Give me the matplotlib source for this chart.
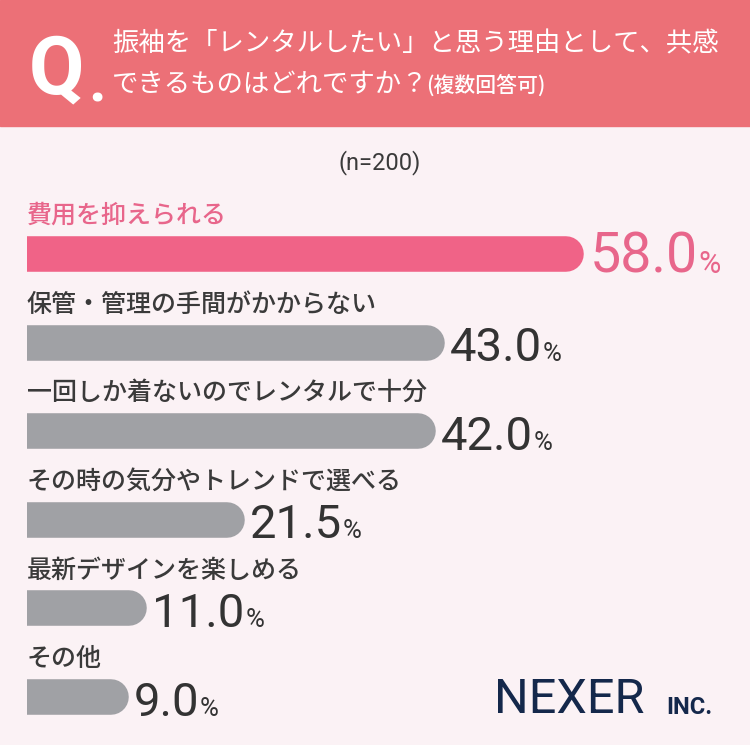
import matplotlib
matplotlib.use("Agg")
import matplotlib.pyplot as plt
from matplotlib.patches import Rectangle

plt.rcParams['font.family'] = ['Noto Sans CJK JP', 'DejaVu Sans']

# data
labels = ["費用を抑えられる", "保管・管理の手間がかからない", "一回しか着ないのでレンタルで十分",
          "その時の気分やトレンドで選べる", "最新デザインを楽しめる", "その他"]
values = [58.0, 43.0, 42.0, 21.5, 11.0, 9.0]
title1 = "振袖を「レンタルしたい」と思う理由として、共感"
title2 = "できるものはどれですか？"
title_note = "(複数回答可)"
n_note = "(n=200)"

W, H = 750, 745
BG = "#fbf2f5"
HEAD = "#ec7077"
PINK = "#f06387"
PINK_TXT = "#e8668b"
GRAY = "#a0a1a5"
DARK = "#333333"
NAVY = "#14284b"


def fx(px):
  return px / W


def fy(py):
  return 1 - py / H


fig = plt.figure(figsize=(W / 100, H / 100), dpi=100)
fig.patch.set_facecolor(BG)
fig.patches.append(Rectangle((0, fy(126)), 1, 126 / H, transform=fig.transFigure,
                             color=HEAD, zorder=0))

# header
fig.text(fx(29), fy(93), "Q", color="white", fontsize=58, fontweight="bold",
         family="Roboto", va="baseline", ha="left")
fig.text(fx(88), fy(102), ".", color="white", fontsize=44, fontweight="bold",
         family="Roboto", va="baseline", ha="left")
fig.text(fx(112), fy(44), title1, color="white", fontsize=19, va="center", ha="left")
fig.text(fx(112), fy(85), title2, color="white", fontsize=19, va="center", ha="left")
fig.text(fx(426), fy(86), title_note, color="white", fontsize=15, va="center", ha="left",
         fontweight="medium")

fig.text(fx(380), fy(163), n_note, color="#3a3a3a", fontsize=17, va="center", ha="center",
         family="Roboto")

# bars
ax = fig.add_axes([fx(27), 0, 1 - fx(27), 1])
ax.set_facecolor("none")
ax.axis("off")
scale = 9.3  # px per percent
ax.set_xlim(0, (W - 27) / scale)
first, step = 254, 88.6
ax.set_ylim((H - first) / step, -first / step)

for i, (lab, v) in enumerate(zip(labels, values)):
  col = PINK if i == 0 else GRAY
  tcol = PINK_TXT if i == 0 else DARK
  num_fs = 40 if i == 0 else 34
  pct_fs = 22 if i == 0 else 18.5
  ax.plot([-5, v], [i, i], color=col, linewidth=25.6, solid_capstyle="round",
          clip_on=True, zorder=2)
  ax.annotate(lab, (0, i), xytext=(0, 38 * 0.72), textcoords="offset points",
              color=tcol if i == 0 else "#3a3a3a", fontsize=18, va="center", ha="left",
              fontweight="medium")
  t = ax.annotate(f"{v:.1f}", (v, i), xytext=(23 * 0.72, -18.5 * 0.72),
                  textcoords="offset points", color=tcol, fontsize=num_fs, va="baseline",
                  ha="left", family="Roboto")
  ax.annotate("%", (1, i), xycoords=(t, "data"), xytext=(0.5, -18.5 * 0.72),
              textcoords="offset points", color=tcol, fontsize=pct_fs, va="baseline",
              ha="left", family="Roboto")

# logo
fig.text(fx(494), fy(700), "NEXER", color=NAVY, fontsize=35, va="center", ha="left",
         family="Roboto")
fig.text(fx(666), fy(707), "INC.", color=NAVY, fontsize=17, va="center", ha="left",
         family="Roboto", fontweight="bold")

fig.savefig("out.png", dpi=100, facecolor=BG)
